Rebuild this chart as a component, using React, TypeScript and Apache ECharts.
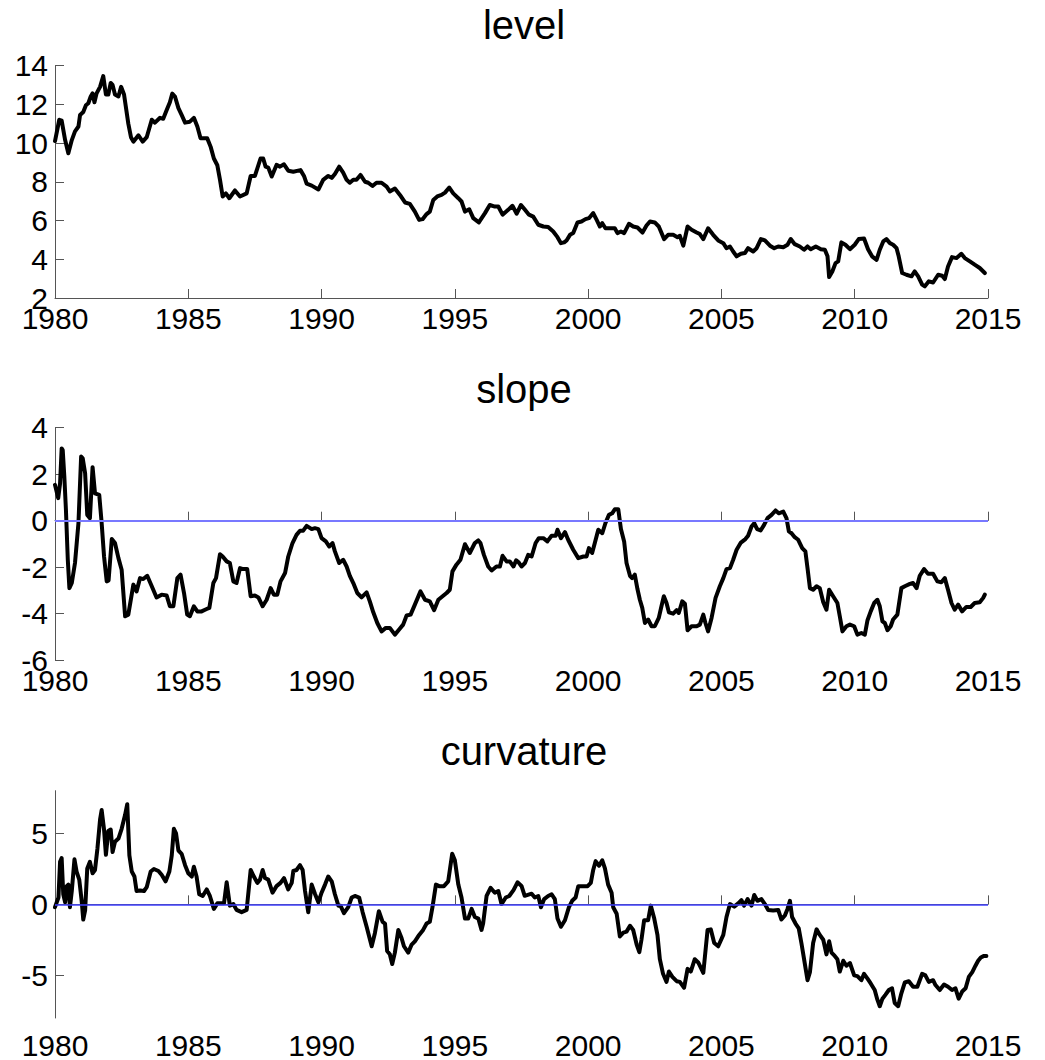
import React, { useEffect, useRef } from "react";
import * as echarts from "echarts";

// Yield-curve factors, sampled as [decimal year, value]
const levelData: [number, number][] = [
  [1980.0, 10.1], [1980.16, 11.2], [1980.25, 11.15], [1980.38, 10.15], [1980.5, 9.47], [1980.63, 10.15],
  [1980.75, 10.6], [1980.88, 10.85], [1980.94, 11.45], [1981.06, 11.6], [1981.16, 11.95], [1981.25, 12.05],
  [1981.34, 12.4], [1981.41, 12.56], [1981.48, 12.1], [1981.56, 12.56], [1981.69, 12.9], [1981.81, 13.45],
  [1981.91, 12.5], [1982.0, 12.5], [1982.09, 13.1], [1982.16, 13.0], [1982.25, 12.5], [1982.38, 12.4],
  [1982.48, 12.9], [1982.59, 12.5], [1982.75, 11.0], [1982.85, 10.3], [1982.94, 10.07], [1983.13, 10.4],
  [1983.29, 10.07], [1983.44, 10.3], [1983.63, 11.2], [1983.75, 11.05], [1983.94, 11.3], [1984.06, 11.25],
  [1984.19, 11.7], [1984.31, 12.1], [1984.4, 12.55], [1984.5, 12.4], [1984.63, 11.8], [1984.75, 11.45],
  [1984.88, 11.05], [1985.06, 11.1], [1985.21, 11.3], [1985.34, 10.85], [1985.46, 10.25], [1985.71, 10.25],
  [1985.84, 9.8], [1985.96, 9.2], [1986.09, 8.85], [1986.19, 8.1], [1986.29, 7.24], [1986.41, 7.4],
  [1986.54, 7.15], [1986.75, 7.55], [1986.94, 7.24], [1987.19, 7.4], [1987.34, 8.3], [1987.5, 8.3],
  [1987.71, 9.2], [1987.81, 9.2], [1987.9, 8.78], [1988.0, 8.73], [1988.13, 8.27], [1988.31, 8.87],
  [1988.44, 8.78], [1988.59, 8.9], [1988.75, 8.57], [1988.94, 8.52], [1989.21, 8.6], [1989.34, 8.3],
  [1989.44, 7.9], [1989.63, 7.8], [1989.88, 7.6], [1990.06, 8.1], [1990.25, 8.3], [1990.38, 8.2],
  [1990.5, 8.4], [1990.66, 8.78], [1990.81, 8.47], [1990.94, 8.1], [1991.06, 7.95], [1991.19, 8.1],
  [1991.31, 8.1], [1991.46, 8.35], [1991.63, 8.0], [1991.75, 7.95], [1991.91, 7.78], [1992.06, 7.95],
  [1992.25, 7.95], [1992.44, 7.75], [1992.56, 7.5], [1992.75, 7.65], [1992.94, 7.32], [1993.13, 6.93],
  [1993.31, 6.86], [1993.5, 6.46], [1993.66, 6.03], [1993.79, 6.07], [1993.94, 6.33], [1994.06, 6.46],
  [1994.19, 7.06], [1994.34, 7.24], [1994.5, 7.32], [1994.63, 7.44], [1994.79, 7.7], [1994.94, 7.4],
  [1995.13, 7.15], [1995.25, 6.98], [1995.38, 6.46], [1995.54, 6.58], [1995.69, 6.12], [1995.9, 5.9],
  [1996.13, 6.38], [1996.31, 6.8], [1996.5, 6.72], [1996.63, 6.72], [1996.79, 6.3], [1997.0, 6.55],
  [1997.16, 6.76], [1997.32, 6.35], [1997.48, 6.8], [1997.63, 6.55], [1997.78, 6.3], [1997.94, 6.2],
  [1998.13, 5.78], [1998.32, 5.69], [1998.5, 5.66], [1998.69, 5.43], [1998.85, 5.14], [1998.98, 4.83],
  [1999.1, 4.87], [1999.19, 4.97], [1999.32, 5.26], [1999.44, 5.35], [1999.6, 5.9], [1999.75, 5.95],
  [1999.9, 6.07], [2000.03, 6.12], [2000.19, 6.38], [2000.32, 6.03], [2000.44, 5.69], [2000.53, 5.86],
  [2000.65, 5.6], [2000.82, 5.6], [2001.0, 5.6], [2001.1, 5.35], [2001.23, 5.43], [2001.35, 5.35],
  [2001.53, 5.83], [2001.69, 5.69], [2001.85, 5.64], [2002.04, 5.38], [2002.19, 5.74], [2002.32, 5.95],
  [2002.5, 5.9], [2002.65, 5.69], [2002.85, 5.04], [2003.0, 5.26], [2003.19, 5.26], [2003.35, 5.14],
  [2003.44, 5.21], [2003.57, 4.7], [2003.73, 5.69], [2003.88, 5.52], [2004.07, 5.38], [2004.19, 5.3],
  [2004.32, 5.04], [2004.5, 5.6], [2004.69, 5.26], [2004.88, 4.97], [2005.07, 4.83], [2005.19, 4.57],
  [2005.32, 4.66], [2005.44, 4.4], [2005.57, 4.15], [2005.73, 4.28], [2005.88, 4.32], [2006.0, 4.57],
  [2006.19, 4.4], [2006.32, 4.57], [2006.48, 5.04], [2006.63, 4.97], [2006.82, 4.7], [2006.98, 4.57],
  [2007.13, 4.66], [2007.32, 4.62], [2007.48, 4.75], [2007.6, 5.04], [2007.75, 4.78], [2007.94, 4.66],
  [2008.1, 4.49], [2008.23, 4.66], [2008.35, 4.52], [2008.54, 4.66], [2008.73, 4.52], [2008.88, 4.49],
  [2008.98, 4.15], [2009.04, 3.08], [2009.16, 3.37], [2009.28, 3.8], [2009.38, 3.89], [2009.5, 4.87],
  [2009.65, 4.75], [2009.82, 4.52], [2010.0, 4.75], [2010.15, 5.04], [2010.35, 5.07], [2010.5, 4.52],
  [2010.65, 4.15], [2010.82, 3.97], [2010.94, 4.49], [2011.07, 4.92], [2011.19, 5.04], [2011.32, 4.83],
  [2011.44, 4.75], [2011.57, 4.57], [2011.65, 4.15], [2011.78, 3.29], [2011.94, 3.2], [2012.13, 3.12],
  [2012.25, 3.37], [2012.38, 3.12], [2012.53, 2.69], [2012.63, 2.6], [2012.78, 2.86], [2012.94, 2.8],
  [2013.13, 3.2], [2013.28, 3.15], [2013.38, 2.98], [2013.5, 3.63], [2013.65, 4.11], [2013.82, 4.06],
  [2014.0, 4.28], [2014.13, 4.06], [2014.32, 3.89], [2014.5, 3.72], [2014.69, 3.55], [2014.88, 3.29],
];

const slopeData: [number, number][] = [
  [1980.0, 1.54], [1980.12, 0.97], [1980.19, 1.6], [1980.25, 3.11], [1980.29, 3.04], [1980.35, 1.9],
  [1980.41, 0.47], [1980.48, -1.68], [1980.54, -2.9], [1980.63, -2.68], [1980.75, -1.82], [1980.88, -0.1],
  [1980.98, 2.76], [1981.04, 2.68], [1981.13, 2.04], [1981.21, 0.25], [1981.31, 0.11], [1981.41, 2.3],
  [1981.5, 1.18], [1981.66, 1.11], [1981.75, -0.1], [1981.84, -1.54], [1981.94, -2.61], [1982.01, -2.57],
  [1982.13, -0.79], [1982.25, -0.96], [1982.38, -1.61], [1982.5, -2.11], [1982.63, -4.11], [1982.75, -4.04],
  [1982.94, -2.75], [1983.06, -3.04], [1983.19, -2.47], [1983.31, -2.51], [1983.46, -2.37], [1983.63, -2.82],
  [1983.81, -3.3], [1984.0, -3.18], [1984.19, -3.22], [1984.31, -3.68], [1984.44, -3.68], [1984.59, -2.47],
  [1984.71, -2.32], [1984.84, -3.11], [1984.96, -4.04], [1985.06, -4.11], [1985.21, -3.68], [1985.34, -3.9],
  [1985.5, -3.9], [1985.69, -3.8], [1985.79, -3.75], [1985.94, -2.68], [1986.04, -2.47], [1986.19, -1.44],
  [1986.29, -1.54], [1986.44, -1.75], [1986.56, -1.82], [1986.69, -2.61], [1986.81, -2.68], [1986.94, -2.04],
  [1987.06, -2.08], [1987.21, -2.08], [1987.34, -3.25], [1987.5, -3.22], [1987.63, -3.3], [1987.79, -3.68],
  [1987.94, -3.4], [1988.09, -2.9], [1988.21, -3.18], [1988.34, -3.18], [1988.46, -2.61], [1988.63, -2.25],
  [1988.75, -1.54], [1988.91, -0.96], [1989.06, -0.61], [1989.19, -0.43], [1989.31, -0.43], [1989.44, -0.22],
  [1989.63, -0.36], [1989.75, -0.32], [1989.88, -0.36], [1990.0, -0.75], [1990.16, -0.89], [1990.29, -1.11],
  [1990.41, -0.96], [1990.5, -1.32], [1990.66, -1.82], [1990.81, -1.68], [1990.94, -1.97], [1991.06, -2.37],
  [1991.19, -2.68], [1991.34, -3.11], [1991.5, -3.3], [1991.69, -3.08], [1991.81, -3.47], [1991.94, -3.94],
  [1992.09, -4.4], [1992.25, -4.76], [1992.41, -4.61], [1992.56, -4.61], [1992.75, -4.9], [1992.91, -4.68],
  [1993.06, -4.47], [1993.19, -4.08], [1993.34, -4.04], [1993.5, -3.61], [1993.71, -3.04], [1993.88, -3.4],
  [1994.06, -3.47], [1994.22, -3.85], [1994.38, -3.4], [1994.54, -3.25], [1994.69, -3.11], [1994.81, -2.97],
  [1994.91, -2.18], [1995.06, -1.89], [1995.21, -1.68], [1995.38, -1.01], [1995.56, -1.39], [1995.75, -0.96],
  [1995.88, -0.85], [1995.96, -0.96], [1996.09, -1.47], [1996.25, -1.97], [1996.38, -2.14], [1996.56, -1.97],
  [1996.69, -1.97], [1996.79, -1.51], [1996.94, -1.75], [1997.06, -1.75], [1997.2, -1.97], [1997.3, -1.7],
  [1997.4, -1.8], [1997.5, -1.97], [1997.63, -1.82], [1997.75, -1.47], [1997.88, -1.54], [1998.03, -0.96],
  [1998.15, -0.75], [1998.32, -0.75], [1998.47, -0.89], [1998.63, -0.65], [1998.78, -0.65], [1998.85, -0.39],
  [1998.98, -0.75], [1999.13, -0.49], [1999.25, -0.82], [1999.44, -1.25], [1999.63, -1.61], [1999.82, -1.54],
  [1999.94, -1.54], [2000.03, -1.18], [2000.15, -1.39], [2000.25, -0.96], [2000.38, -0.39], [2000.53, -0.54],
  [2000.65, -0.1], [2000.78, 0.25], [2000.9, 0.32], [2001.0, 0.49], [2001.13, 0.49], [2001.23, -0.36],
  [2001.35, -0.89], [2001.44, -1.82], [2001.57, -2.37], [2001.65, -2.47], [2001.75, -2.32], [2001.85, -2.94],
  [2001.94, -3.4], [2002.03, -3.75], [2002.13, -4.4], [2002.25, -4.25], [2002.38, -4.54], [2002.5, -4.54],
  [2002.65, -4.18], [2002.75, -3.68], [2002.84, -3.25], [2002.94, -3.54], [2003.03, -3.94], [2003.19, -4.0],
  [2003.32, -3.85], [2003.4, -3.97], [2003.53, -3.47], [2003.63, -3.57], [2003.73, -4.71], [2003.88, -4.54],
  [2004.07, -4.54], [2004.19, -4.47], [2004.32, -4.04], [2004.4, -4.4], [2004.5, -4.76], [2004.63, -4.18],
  [2004.78, -3.32], [2004.94, -2.82], [2005.07, -2.47], [2005.19, -2.08], [2005.32, -2.04], [2005.44, -1.68],
  [2005.57, -1.25], [2005.73, -0.94], [2005.9, -0.79], [2006.0, -0.65], [2006.13, -0.25], [2006.23, -0.11],
  [2006.34, -0.36], [2006.47, -0.42], [2006.6, -0.18], [2006.73, 0.11], [2006.88, 0.25], [2007.03, 0.44],
  [2007.15, 0.32], [2007.32, 0.39], [2007.44, 0.11], [2007.53, -0.46], [2007.63, -0.54], [2007.75, -0.71],
  [2007.88, -0.82], [2008.03, -1.18], [2008.15, -1.32], [2008.23, -2.04], [2008.32, -2.9], [2008.44, -2.97],
  [2008.57, -2.82], [2008.69, -2.9], [2008.82, -3.51], [2008.94, -3.83], [2009.04, -2.97], [2009.19, -3.25],
  [2009.35, -3.54], [2009.44, -4.11], [2009.54, -4.76], [2009.69, -4.54], [2009.82, -4.47], [2009.98, -4.54],
  [2010.1, -4.9], [2010.25, -4.83], [2010.38, -4.9], [2010.48, -4.28], [2010.6, -3.9], [2010.73, -3.54],
  [2010.85, -3.4], [2010.94, -3.68], [2011.04, -4.33], [2011.13, -4.4], [2011.23, -4.71], [2011.35, -4.54],
  [2011.44, -4.25], [2011.6, -4.04], [2011.75, -2.9], [2011.88, -2.82], [2012.07, -2.72], [2012.19, -2.68],
  [2012.32, -2.9], [2012.44, -2.37], [2012.6, -2.08], [2012.75, -2.28], [2012.94, -2.28], [2013.1, -2.61],
  [2013.25, -2.65], [2013.38, -2.47], [2013.5, -2.97], [2013.63, -3.54], [2013.75, -3.83], [2013.88, -3.61],
  [2014.03, -3.9], [2014.19, -3.71], [2014.35, -3.71], [2014.5, -3.54], [2014.69, -3.51], [2014.82, -3.32],
  [2014.88, -3.18],
];

const curvatureData: [number, number][] = [
  [1980.0, -0.2], [1980.13, 0.48], [1980.19, 2.99], [1980.25, 3.26], [1980.31, 0.71], [1980.38, 0.14],
  [1980.44, 1.28], [1980.5, 1.39], [1980.56, -0.2], [1980.63, 0.94], [1980.73, 3.17], [1980.81, 2.31],
  [1980.91, 1.74], [1981.0, 0.25], [1981.06, -1.07], [1981.13, -0.43], [1981.21, 2.53], [1981.31, 2.99],
  [1981.41, 2.19], [1981.5, 2.42], [1981.59, 3.9], [1981.69, 5.96], [1981.75, 6.64], [1981.84, 5.27],
  [1981.91, 3.49], [1982.0, 5.16], [1982.09, 5.27], [1982.16, 3.68], [1982.25, 4.41], [1982.38, 4.63],
  [1982.5, 5.32], [1982.63, 6.3], [1982.71, 7.05], [1982.79, 3.45], [1982.88, 2.31], [1982.98, 1.96],
  [1983.06, 0.94], [1983.19, 0.98], [1983.34, 0.94], [1983.44, 1.21], [1983.59, 2.31], [1983.71, 2.49],
  [1983.88, 2.35], [1984.0, 2.08], [1984.15, 1.62], [1984.29, 2.31], [1984.38, 3.45], [1984.46, 5.32],
  [1984.54, 5.0], [1984.63, 3.79], [1984.75, 3.56], [1984.88, 2.76], [1985.0, 2.19], [1985.13, 1.96],
  [1985.21, 2.65], [1985.31, 1.96], [1985.41, 0.71], [1985.54, 0.59], [1985.69, 1.05], [1985.81, 0.59],
  [1985.96, -0.32], [1986.09, 0.07], [1986.25, 0.07], [1986.34, 0.07], [1986.44, 1.55], [1986.56, -0.09],
  [1986.69, 0.02], [1986.81, -0.39], [1987.0, -0.55], [1987.19, -0.39], [1987.34, 2.42], [1987.46, 1.96],
  [1987.59, 1.51], [1987.69, 1.74], [1987.79, 2.42], [1987.88, 1.85], [1988.0, 1.74], [1988.16, 0.82],
  [1988.31, 1.28], [1988.46, 1.51], [1988.59, 1.85], [1988.75, 1.05], [1988.88, 1.51], [1988.94, 2.35],
  [1989.06, 2.42], [1989.19, 2.76], [1989.29, 2.42], [1989.38, 0.94], [1989.5, -0.55], [1989.63, 1.39],
  [1989.75, 0.75], [1989.88, 0.14], [1990.0, 0.82], [1990.13, 1.39], [1990.25, 1.96], [1990.38, 1.62],
  [1990.5, 0.71], [1990.63, -0.09], [1990.71, -0.09], [1990.84, -0.62], [1991.0, -0.2], [1991.13, 0.48],
  [1991.25, 0.59], [1991.41, 0.48], [1991.54, -0.55], [1991.69, -1.58], [1991.88, -2.95], [1992.0, -2.03],
  [1992.15, -0.48], [1992.29, -1.23], [1992.38, -1.35], [1992.46, -3.29], [1992.56, -3.52], [1992.65, -4.2],
  [1992.75, -3.4], [1992.88, -1.8], [1993.0, -2.37], [1993.09, -2.95], [1993.25, -3.4], [1993.38, -2.83],
  [1993.5, -2.6], [1993.66, -2.15], [1993.81, -1.8], [1993.94, -1.35], [1994.06, -1.23], [1994.16, -0.2],
  [1994.29, 1.39], [1994.41, 1.28], [1994.59, 1.28], [1994.75, 1.62], [1994.9, 3.56], [1995.0, 3.1],
  [1995.13, 1.39], [1995.25, 0.48], [1995.38, -1.0], [1995.5, -1.0], [1995.63, -0.32], [1995.75, -0.89],
  [1995.88, -1.0], [1996.0, -1.8], [1996.06, -1.35], [1996.19, 0.59], [1996.34, 1.16], [1996.5, 0.82],
  [1996.63, 0.94], [1996.75, 0.02], [1996.91, 0.48], [1997.04, 0.59], [1997.2, 1.0], [1997.35, 1.55],
  [1997.5, 1.3], [1997.62, 0.6], [1997.88, 0.75], [1998.0, 0.48], [1998.13, 0.59], [1998.23, -0.2],
  [1998.35, 0.37], [1998.5, 0.59], [1998.63, 0.71], [1998.75, 0.37], [1998.85, -1.0], [1998.98, -1.58],
  [1999.13, -1.12], [1999.28, -0.2], [1999.4, 0.25], [1999.53, 0.48], [1999.63, 1.28], [1999.82, 1.28],
  [1999.98, 1.28], [2000.1, 1.51], [2000.19, 2.42], [2000.28, 3.04], [2000.41, 2.72], [2000.53, 3.1],
  [2000.63, 2.53], [2000.75, 1.39], [2000.88, 0.82], [2000.94, -0.2], [2001.07, -0.66], [2001.19, -2.26],
  [2001.32, -1.99], [2001.44, -1.92], [2001.57, -1.51], [2001.69, -1.8], [2001.82, -2.83], [2001.92, -3.36],
  [2002.0, -2.49], [2002.1, -1.12], [2002.25, -1.12], [2002.35, -0.09], [2002.48, -1.0], [2002.6, -2.15],
  [2002.69, -3.86], [2002.81, -4.89], [2002.94, -5.46], [2003.03, -4.73], [2003.16, -5.11], [2003.32, -5.41],
  [2003.44, -5.46], [2003.6, -5.87], [2003.73, -4.54], [2003.85, -4.73], [2004.0, -3.86], [2004.13, -4.09],
  [2004.32, -4.82], [2004.48, -1.8], [2004.6, -1.76], [2004.73, -2.72], [2004.88, -2.95], [2005.07, -2.15],
  [2005.19, -0.89], [2005.32, 0.02], [2005.48, -0.16], [2005.63, 0.07], [2005.75, 0.3], [2005.85, -0.09],
  [2005.98, 0.37], [2006.13, -0.09], [2006.23, 0.66], [2006.35, 0.25], [2006.5, 0.37], [2006.63, 0.02],
  [2006.75, -0.39], [2006.94, -0.43], [2007.13, -0.39], [2007.25, -1.07], [2007.38, -0.78], [2007.48, -0.32],
  [2007.57, 0.25], [2007.65, -0.89], [2007.78, -1.35], [2007.9, -1.69], [2008.0, -2.72], [2008.1, -3.86],
  [2008.23, -5.34], [2008.32, -4.77], [2008.44, -2.72], [2008.57, -1.76], [2008.69, -2.15], [2008.82, -2.49],
  [2008.94, -3.52], [2009.04, -2.6], [2009.13, -3.4], [2009.25, -3.63], [2009.35, -3.86], [2009.44, -4.73],
  [2009.57, -3.97], [2009.69, -4.32], [2009.82, -4.13], [2009.98, -5.0], [2010.1, -5.05], [2010.25, -5.34],
  [2010.35, -4.89], [2010.48, -5.23], [2010.6, -5.57], [2010.75, -6.03], [2010.85, -6.71], [2010.94, -7.17],
  [2011.04, -6.64], [2011.15, -6.37], [2011.28, -6.03], [2011.4, -5.91], [2011.5, -6.94], [2011.63, -7.17],
  [2011.75, -6.26], [2011.88, -5.5], [2012.03, -5.41], [2012.19, -5.8], [2012.35, -5.8], [2012.53, -4.89],
  [2012.65, -5.0], [2012.78, -5.46], [2012.94, -5.34], [2013.03, -5.68], [2013.19, -6.03], [2013.35, -5.64],
  [2013.5, -5.8], [2013.65, -6.03], [2013.78, -5.91], [2013.9, -6.64], [2014.03, -6.14], [2014.16, -5.91],
  [2014.28, -5.11], [2014.41, -4.77], [2014.53, -4.32], [2014.63, -3.97], [2014.73, -3.74], [2014.85, -3.63],
  [2014.94, -3.63],
];

const panelTitles = ["level", "slope", "curvature"];
const curvatureTicks = [-5, 0, 5];

const FONT = '"Liberation Sans", Arial, sans-serif';
const AXIS_GREY = "#555555";

// panel placement in pixels
const PLOT_LEFT = 55;
const PLOT_WIDTH = 933;
const PLOT_HEIGHT = 232.5;
const PLOT_TOPS = [65.5, 427.7, 790.7];
const TITLE_MIDDLES = [25, 389, 751];
const X_LABEL_MARGINS = [5, 5, 12];
const TICK_FONT_SIZE = 30;

function buildOption() {
  const grid = PLOT_TOPS.map((top) => ({
    left: PLOT_LEFT,
    top,
    width: PLOT_WIDTH,
    height: PLOT_HEIGHT,
    containLabel: false,
  }));

  const xAxis = PLOT_TOPS.map((_, i) => ({
    type: "value",
    gridIndex: i,
    min: 1980,
    max: 2015,
    interval: 5,
    axisLine: { show: true, lineStyle: { color: AXIS_GREY, width: 1 } },
    axisTick: { show: true, inside: true, length: 9, lineStyle: { color: AXIS_GREY, width: 1 } },
    axisLabel: {
      fontSize: TICK_FONT_SIZE,
      fontFamily: FONT,
      color: "#000",
      margin: X_LABEL_MARGINS[i],
      formatter: (v: number) => String(v),
    },
    splitLine: { show: false },
  }));

  const yCommon = {
    type: "value",
    axisLine: { show: true, lineStyle: { color: AXIS_GREY, width: 1 } },
    splitLine: { show: false },
  };
  const yLabel = { fontSize: TICK_FONT_SIZE, fontFamily: FONT, color: "#000", margin: 7 };
  const yTick = { show: true, inside: true, length: 9, lineStyle: { color: AXIS_GREY, width: 1 } };

  const yAxis = [
    { ...yCommon, gridIndex: 0, min: 2, max: 14, interval: 2, axisTick: yTick, axisLabel: yLabel },
    { ...yCommon, gridIndex: 1, min: -6, max: 4, interval: 2, axisTick: yTick, axisLabel: yLabel },
    {
      ...yCommon,
      gridIndex: 2,
      min: -8,
      max: 8,
      axisTick: { ...yTick, customValues: curvatureTicks },
      axisLabel: { ...yLabel, customValues: curvatureTicks },
    },
  ];

  const zeroLine = (color: string, width: number) => ({
    silent: true,
    symbol: ["none", "none"],
    label: { show: false },
    lineStyle: { color, width, type: "solid" },
    data: [{ yAxis: 0 }],
  });

  const lineSeries = (data: [number, number][], i: number, mark?: any) => ({
    type: "line",
    xAxisIndex: i,
    yAxisIndex: i,
    data,
    showSymbol: false,
    symbol: "none",
    smooth: false,
    lineStyle: { color: "#000", width: 4, join: "round", cap: "round" },
    z: 3,
    markLine: mark,
  });

  const series = [
    lineSeries(levelData, 0),
    lineSeries(slopeData, 1, zeroLine("#7878ff", 2)),
    lineSeries(curvatureData, 2, zeroLine("#4040ff", 1.5)),
  ];

  const graphic = panelTitles.map((t, i) => ({
    type: "text",
    x: 524,
    y: TITLE_MIDDLES[i],
    style: {
      text: t,
      fill: "#000",
      font: `normal 40px ${FONT}`,
      fontSize: 40,
      fontFamily: FONT,
      align: "center",
      verticalAlign: "middle",
      textAlign: "center",
      textVerticalAlign: "middle",
    },
  }));

  return {
    animation: false,
    backgroundColor: "#ffffff",
    grid,
    xAxis,
    yAxis,
    series,
    graphic,
  };
}

export default function App() {
  const ref = useRef<HTMLDivElement>(null);

  useEffect(() => {
    if (!ref.current) return;
    const chart = echarts.init(ref.current, undefined, { renderer: "svg" });
    chart.setOption(buildOption() as any);
    return () => chart.dispose();
  }, []);

  return (
    <div
      ref={ref}
      style={{ position: "absolute", left: 0, top: 0, width: 1045, height: 1060, background: "#fff" }}
    />
  );
}
